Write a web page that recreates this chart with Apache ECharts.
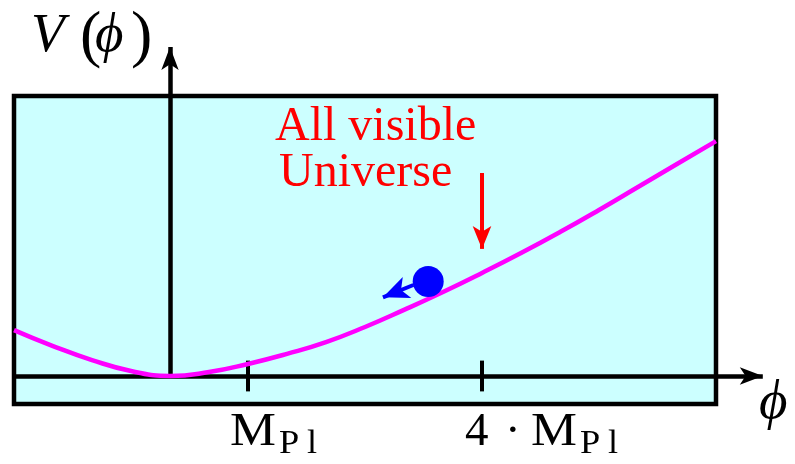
<!DOCTYPE html>
<html>
<head>
<meta charset="utf-8">
<script src="https://cdn.jsdelivr.net/npm/echarts@6/dist/echarts.min.js"></script>
<style>
  html, body { margin: 0; padding: 0; background: #fff; }
  #chart { width: 795px; height: 464px; }
</style>
</head>
<body>
<div id="chart"></div>
<script>
// Inflaton field φ (in Planck masses) and the potential V(φ) along the curve
const phi = [-2, -1.5, -1, -0.5, 0, 0.5, 1, 1.5, 2, 2.5, 3, 3.5, 4, 4.5, 5, 5.5, 6, 6.5, 7];
const potential = [1.64, 1.07, 0.57, 0.18, 0, 0.14, 0.43, 0.79, 1.21, 1.75, 2.36, 3.0, 3.68, 4.39, 5.14, 5.93, 6.75, 7.57, 8.39];

// Tick positions on the φ axis and their labels (M with subscript Pl)
const tickValues = [1, 4];
const tickPrefixes = ['', '4'];

// Shaded frame and axis extents
const frameX = [-2, 7];
const frameY = [-1, 10];
const axisEndX = 7.6;
const axisEndY = 11.75;
const tickHalf = 0.55;

// The rolling field, its push arrow and the "All visible Universe" pointer
const field = [3.31, 3.375];
const rollArrow = [[3.12, 3.25], [2.73, 2.81]];
const universeArrow = [[4, 7.25], [4, 4.54]];

const SERIF = '"Liberation Serif", "Times New Roman", serif';
const GREEK = '"Liberation Serif", "DejaVu Serif", serif';

const chart = echarts.init(document.getElementById('chart'), null, { renderer: 'canvas' });

function segment(a, b) {
  return [{ coord: a }, { coord: b }];
}

const option = {
  animation: false,
  grid: { left: 14, right: 32.2, top: 47, bottom: 60 },
  xAxis: { type: 'value', min: frameX[0], max: axisEndX, show: false },
  yAxis: { type: 'value', min: frameY[0], max: axisEndY, show: false },
  series: [
    {
      // cyan frame
      type: 'line', data: [], clip: false, silent: true,
      markArea: {
        silent: true, z: 0,
        itemStyle: { color: '#ccffff', borderColor: '#000', borderWidth: 4.5 },
        data: [[{ coord: [frameX[0], frameY[0]] }, { coord: [frameX[1], frameY[1]] }]]
      }
    },
    {
      // coordinate axes with arrow heads
      type: 'line', data: [], clip: false, silent: true,
      markLine: {
        silent: true, z: 1,
        symbol: ['none', 'arrow'], symbolSize: [13, 23],
        label: { show: false },
        lineStyle: { color: '#000', width: 4.5, type: 'solid' },
        data: [
          segment([frameX[0], 0], [axisEndX, 0]),
          segment([0, 0], [0, axisEndY])
        ]
      }
    },
    {
      // tick marks crossing the φ axis
      type: 'line', data: [], clip: false, silent: true,
      markLine: {
        silent: true, z: 1,
        symbol: ['none', 'none'],
        label: { show: false },
        lineStyle: { color: '#000', width: 4, type: 'solid' },
        data: tickValues.map(v => segment([v, -tickHalf], [v, tickHalf]))
      }
    },
    {
      name: 'V(φ)',
      type: 'line', clip: false, silent: true, z: 3,
      data: phi.map((p, i) => [p, potential[i]]),
      smooth: 0.5,
      showSymbol: false, symbol: 'none',
      lineStyle: { color: '#ff00ff', width: 4.5 }
    },
    {
      type: 'scatter', silent: true, z: 4,
      data: [field],
      symbolSize: 31,
      itemStyle: { color: '#0000ff', opacity: 1 }
    },
    {
      type: 'line', data: [], clip: false, silent: true,
      markLine: {
        silent: true, z: 5,
        symbol: ['none', 'arrow'], symbolSize: [17, 26],
        label: { show: false },
        lineStyle: { color: '#0000ff', width: 4, type: 'solid' },
        data: [segment(rollArrow[0], rollArrow[1])]
      }
    },
    {
      type: 'line', data: [], clip: false, silent: true,
      markLine: {
        silent: true, z: 5,
        symbol: ['none', 'arrow'], symbolSize: [14, 23],
        label: { show: false },
        lineStyle: { color: '#ff0000', width: 4, type: 'solid' },
        data: [segment(universeArrow[0], universeArrow[1])]
      }
    }
  ]
};

chart.setOption(option);

// Text placed by its baseline
function text(x, baseline, str, size, extra) {
  extra = extra || {};
  return {
    type: 'text', silent: true, z: 20,
    x: x, y: baseline - 0.3 * size,
    scaleX: extra.stretch || 1,
    style: {
      text: str,
      font: (extra.italic ? 'italic ' : '') + size + 'px ' + (extra.family || SERIF),
      fill: extra.color || '#000',
      align: 'left', verticalAlign: 'middle'
    }
  };
}

const elements = [];

// tick labels
tickValues.forEach((v, i) => {
  const px = chart.convertToPixel({ gridIndex: 0 }, [v, 0])[0];
  let start = px - 18;
  if (tickPrefixes[i]) {
    elements.push(text(px - 17, 447, tickPrefixes[i], 47));
    elements.push(text(px + 23, 447, '·', 47));
    start = px + 49;
  }
  elements.push(text(start, 447, 'M', 47, { stretch: 1.1 }));
  elements.push(text(start + 49, 454, 'P', 33, { stretch: 1.1 }));
  elements.push(text(start + 77, 454, 'l', 33, { stretch: 1.1 }));
});

// axis titles
elements.push(text(31, 53, 'V', 55, { italic: true }));
elements.push(text(80, 57, '(', 64));
elements.push(text(95, 53, '\u03D5', 55, { italic: true, family: GREEK }));
elements.push(text(131, 57, ')', 64));
elements.push(text(759, 420, '\u03D5', 55, { italic: true, family: GREEK }));

// annotation
elements.push(text(275, 142, 'All visible', 48, { color: '#ff0000' }));
elements.push(text(279, 188, 'Universe', 48, { color: '#ff0000' }));

chart.setOption({ graphic: { elements: elements } });
</script>
</body>
</html>
